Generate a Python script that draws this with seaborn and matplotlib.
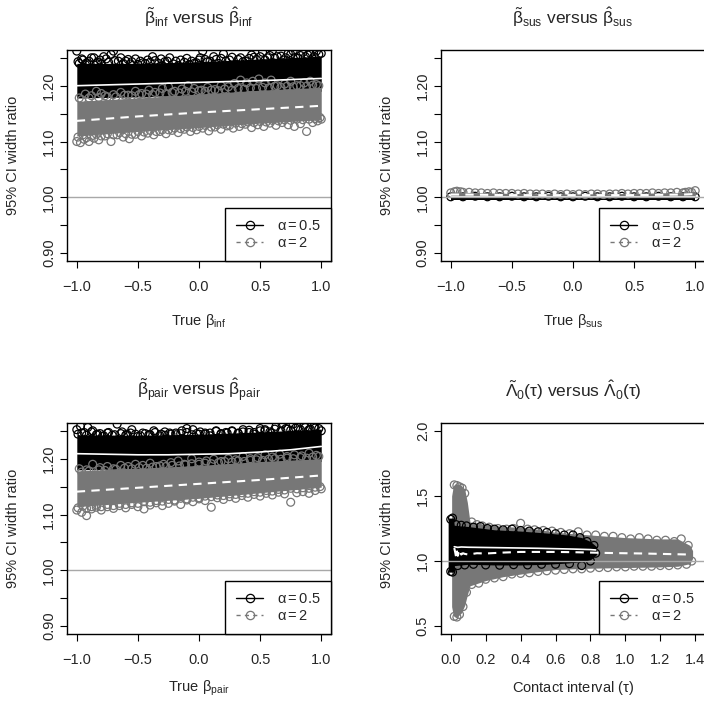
import matplotlib
matplotlib.use("Agg")
import matplotlib.pyplot as plt
from matplotlib.lines import Line2D
import seaborn as sns

# ---- data ----
# panel 1: beta_inf
inf_band_x = [-1.0, -0.5, 0.0, 0.5, 1.0]
inf_a05_lo = [1.178, 1.180, 1.183, 1.187, 1.190]
inf_a05_hi = [1.240, 1.240, 1.243, 1.248, 1.253]
inf_a2_lo = [1.110, 1.118, 1.125, 1.133, 1.139]
inf_a2_hi = [1.172, 1.178, 1.185, 1.192, 1.197]
inf_a05_fit = [1.200, 1.203, 1.206, 1.209, 1.213]
inf_a2_fit = [1.137, 1.145, 1.152, 1.158, 1.164]
inf_a05_px = [-1.0, -0.98, -0.95, -0.93, -0.9, -0.86, -0.83, -0.8, -0.76, -0.72, -0.7, -0.66, -0.62,
              -0.58, -0.55, -0.5, -0.46, -0.42, -0.38, -0.33, -0.3, -0.26, -0.21, -0.17, -0.12, -0.08,
              -0.04, 0.0, 0.03, 0.07, 0.12, 0.16, 0.2, 0.25, 0.3, 0.34, 0.38, 0.43, 0.47, 0.52, 0.56,
              0.6, 0.64, 0.69, 0.73, 0.77, 0.81, 0.85, 0.89, 0.93, 0.96, 1.0,
              -0.99, -0.96, -0.92, -0.88, -0.84, -0.81, -0.78, -0.74, -0.69, -0.64, -0.6, -0.56,
              -0.52, -0.48, -0.44, -0.4, -0.36, -0.31, -0.28, -0.24, -0.19, -0.15, -0.1, -0.06,
              -0.02, 0.01, 0.05, 0.09, 0.14, 0.18, 0.22, 0.27, 0.32, 0.36, 0.41, 0.45, 0.5, 0.54,
              0.58, 0.62, 0.67, 0.71, 0.75, 0.79, 0.83, 0.87, 0.91, 0.94, 0.98]
inf_a05_py = [1.262, 1.240, 1.246, 1.238, 1.244, 1.250, 1.242, 1.239, 1.248, 1.256, 1.262, 1.244, 1.240,
              1.247, 1.243, 1.238, 1.241, 1.246, 1.252, 1.240, 1.236, 1.244, 1.239, 1.236, 1.242, 1.238,
              1.240, 1.246, 1.262, 1.243, 1.252, 1.240, 1.257, 1.246, 1.238, 1.250, 1.244, 1.255, 1.247,
              1.260, 1.250, 1.263, 1.252, 1.246, 1.258, 1.262, 1.249, 1.260, 1.255, 1.248, 1.262, 1.258,
              1.243, 1.248, 1.241, 1.250, 1.240, 1.246, 1.252, 1.242, 1.245, 1.250, 1.244, 1.239,
              1.248, 1.244, 1.240, 1.242, 1.245, 1.248, 1.243, 1.250, 1.244, 1.246, 1.249, 1.244,
              1.241, 1.250, 1.247, 1.244, 1.247, 1.249, 1.244, 1.251, 1.247, 1.243, 1.249, 1.251,
              1.252, 1.246, 1.254, 1.249, 1.253, 1.250, 1.256, 1.251, 1.254, 1.252, 1.258, 1.252, 1.256]
inf_a2_px = [-0.98, -0.93, -0.88, -0.84, -0.8, -0.75, -0.7, -0.64, -0.58, -0.52, -0.47, -0.41, -0.36,
             -0.3, -0.25, -0.2, -0.14, -0.09, -0.04, 0.02, 0.07, 0.13, 0.18, 0.24, 0.29, 0.34, 0.39,
             0.44, 0.49, 0.54, 0.59, 0.64, 0.7, 0.75, 0.8, 0.86, 0.91, 0.96,
             -0.96, -0.9, -0.82, -0.77, -0.68, -0.61, -0.55, -0.49, -0.43, -0.38, -0.32, -0.27, -0.22,
             -0.16, -0.11, -0.06, 0.0, 0.05, 0.1, 0.16, 0.21, 0.27, 0.32, 0.37, 0.42, 0.47, 0.52, 0.57,
             0.62, 0.67, 0.72, 0.77, 0.83, 0.88, 0.93, 0.98,
             -1.0, -0.97, -0.94, -0.9, -0.86, -0.82, -0.77, -0.72, -0.67, -0.62, -0.57, -0.52, -0.47,
             -0.42, -0.37, -0.32, -0.27, -0.22, -0.17, -0.12, -0.07, -0.02, 0.03, 0.08, 0.13, 0.18,
             0.23, 0.28, 0.33, 0.38, 0.43, 0.48, 0.53, 0.58, 0.63, 0.68, 0.73, 0.78, 0.83, 0.88, 0.93,
             0.97, 1.0,
             -0.99, -0.95, -0.92, -0.88, -0.84, -0.8, -0.75, -0.7, -0.65, -0.6, -0.55, -0.5, -0.45,
             -0.4, -0.35, -0.3, -0.25, -0.2, -0.15, -0.1, -0.05, 0.0, 0.05, 0.1, 0.15, 0.2, 0.25, 0.3,
             0.35, 0.4, 0.45, 0.5, 0.55, 0.6, 0.65, 0.7, 0.75, 0.8, 0.85, 0.9, 0.95, 0.99]
inf_a2_py = [1.178, 1.185, 1.182, 1.190, 1.186, 1.180, 1.184, 1.188, 1.183, 1.190, 1.186, 1.192, 1.188,
             1.195, 1.198, 1.190, 1.194, 1.200, 1.195, 1.192, 1.197, 1.193, 1.200, 1.198, 1.204, 1.210,
             1.205, 1.208, 1.212, 1.205, 1.210, 1.200, 1.203, 1.208, 1.200, 1.205, 1.208, 1.202,
             1.175, 1.178, 1.179, 1.182, 1.180, 1.183, 1.182, 1.184, 1.185, 1.184, 1.187, 1.186, 1.188,
             1.187, 1.190, 1.189, 1.191, 1.190, 1.192, 1.191, 1.194, 1.192, 1.195, 1.194, 1.196, 1.195,
             1.197, 1.196, 1.199, 1.197, 1.199, 1.198, 1.200, 1.199, 1.201, 1.200,
             1.100, 1.098, 1.104, 1.100, 1.106, 1.103, 1.110, 1.100, 1.112, 1.108, 1.105, 1.113, 1.110,
             1.115, 1.112, 1.118, 1.114, 1.120, 1.116, 1.122, 1.118, 1.121, 1.124, 1.119, 1.126, 1.122,
             1.128, 1.124, 1.127, 1.131, 1.125, 1.130, 1.127, 1.133, 1.129, 1.134, 1.130, 1.127, 1.132,
             1.118, 1.134, 1.137, 1.140,
             1.108, 1.112, 1.107, 1.110, 1.113, 1.110, 1.114, 1.112, 1.116, 1.114, 1.113, 1.118, 1.117,
             1.120, 1.118, 1.121, 1.121, 1.124, 1.123, 1.126, 1.125, 1.127, 1.129, 1.126, 1.130, 1.131,
             1.129, 1.133, 1.132, 1.135, 1.134, 1.136, 1.135, 1.138, 1.137, 1.139, 1.138, 1.140, 1.139,
             1.140, 1.141, 1.143]

# panel 2: beta_sus
sus_band_x = [-1.0, -0.9, -0.5, 0.0, 0.5, 0.9, 1.0]
sus_a05_lo = [0.996, 0.996, 0.996, 0.996, 0.996, 0.996, 0.996]
sus_a05_hi = [1.003, 1.003, 1.003, 1.003, 1.003, 1.003, 1.003]
sus_a2_lo = [1.000, 1.000, 1.000, 1.000, 1.000, 1.000, 1.000]
sus_a2_hi = [1.010, 1.009, 1.007, 1.006, 1.007, 1.009, 1.011]
sus_a05_fit = [1.000, 1.000, 1.000, 1.000, 1.000, 1.000, 1.000]
sus_a2_fit = [1.005, 1.005, 1.004, 1.004, 1.004, 1.005, 1.006]
sus_a05_px = [-1.0, -0.9, -0.8, -0.7, -0.6, -0.5, -0.4, -0.3, -0.2, -0.1, 0.0, 0.1, 0.2, 0.3, 0.4,
              0.5, 0.6, 0.7, 0.8, 0.9, 1.0]
sus_a05_py = [1.001, 1.001, 1.002, 1.001, 1.001, 1.002, 1.001, 1.001, 1.002, 1.001, 1.001, 1.002,
              1.001, 1.001, 1.002, 1.001, 1.001, 1.002, 1.001, 1.001, 1.001]
sus_a2_px = [-1.0, -0.97, -0.95, -0.92, -0.9, -0.85, -0.8, -0.75, -0.7, -0.65, -0.6, -0.55, -0.5,
             -0.45, -0.4, -0.35, -0.3, -0.25, -0.2, -0.15, -0.1, -0.05, 0.0, 0.05, 0.1, 0.15, 0.2,
             0.25, 0.3, 0.35, 0.4, 0.45, 0.5, 0.55, 0.6, 0.65, 0.7, 0.75, 0.8, 0.85, 0.9, 0.92,
             0.95, 0.97, 1.0]
sus_a2_py = [1.008, 1.010, 1.011, 1.010, 1.009, 1.009, 1.008, 1.008, 1.007, 1.008, 1.007, 1.007,
             1.007, 1.006, 1.007, 1.006, 1.006, 1.006, 1.005, 1.006, 1.005, 1.006, 1.005, 1.006,
             1.005, 1.006, 1.006, 1.005, 1.006, 1.006, 1.007, 1.006, 1.007, 1.007, 1.007, 1.008,
             1.007, 1.008, 1.008, 1.009, 1.008, 1.009, 1.010, 1.009, 1.012]

# panel 3: beta_pair
pair_band_x = [-1.0, -0.5, 0.0, 0.5, 1.0]
pair_a05_lo = [1.180, 1.182, 1.185, 1.190, 1.195]
pair_a05_hi = [1.243, 1.242, 1.244, 1.248, 1.253]
pair_a2_lo = [1.114, 1.122, 1.129, 1.139, 1.149]
pair_a2_hi = [1.178, 1.183, 1.188, 1.195, 1.200]
pair_a05_fit_x = [-1.0, -0.75, -0.5, -0.25, 0.0, 0.25, 0.5, 0.75, 1.0]
pair_a05_fit = [1.209, 1.208, 1.207, 1.207, 1.208, 1.209, 1.212, 1.216, 1.222]
pair_a2_fit = [1.141, 1.148, 1.155, 1.162, 1.170]
pair_a05_px = [-1.0, -0.97, -0.94, -0.91, -0.87, -0.83, -0.79, -0.75, -0.71, -0.67, -0.63, -0.59,
               -0.55, -0.5, -0.46, -0.41, -0.37, -0.32, -0.28, -0.23, -0.19, -0.14, -0.1, -0.05, 0.0,
               0.05, 0.09, 0.14, 0.18, 0.23, 0.27, 0.32, 0.36, 0.41, 0.45, 0.5, 0.54, 0.59, 0.63, 0.68,
               0.72, 0.77, 0.81, 0.86, 0.9, 0.95, 1.0,
               -0.99, -0.96, -0.92, -0.88, -0.84, -0.81, -0.78, -0.74, -0.69, -0.64, -0.6, -0.56,
               -0.52, -0.48, -0.44, -0.4, -0.36, -0.31, -0.28, -0.24, -0.19, -0.15, -0.1, -0.06,
               -0.02, 0.01, 0.05, 0.09, 0.14, 0.18, 0.22, 0.27, 0.32, 0.36, 0.41, 0.45, 0.5, 0.54,
               0.58, 0.62, 0.67, 0.71, 0.75, 0.79, 0.83, 0.87, 0.91, 0.94, 0.98]
pair_a05_py = [1.252, 1.258, 1.247, 1.256, 1.250, 1.244, 1.240, 1.246, 1.242, 1.262, 1.248, 1.244,
               1.252, 1.240, 1.246, 1.243, 1.250, 1.241, 1.248, 1.244, 1.246, 1.250, 1.254, 1.252,
               1.244, 1.246, 1.241, 1.250, 1.244, 1.246, 1.249, 1.245, 1.252, 1.247, 1.244, 1.254,
               1.250, 1.246, 1.258, 1.262, 1.253, 1.262, 1.256, 1.260, 1.252, 1.255, 1.250,
               1.244, 1.246, 1.242, 1.248, 1.243, 1.245, 1.241, 1.247, 1.243, 1.245, 1.242, 1.246,
               1.244, 1.241, 1.245, 1.243, 1.247, 1.244, 1.242, 1.246, 1.243, 1.245, 1.247, 1.243,
               1.245, 1.248, 1.244, 1.246, 1.249, 1.245, 1.247, 1.250, 1.246, 1.248, 1.251, 1.247,
               1.250, 1.252, 1.248, 1.253, 1.250, 1.254, 1.251, 1.255, 1.252, 1.256, 1.253, 1.257, 1.254]
pair_a2_px = [-0.98, -0.92, -0.87, -0.81, -0.75, -0.7, -0.64, -0.58, -0.52, -0.46, -0.4, -0.35, -0.29,
              -0.23, -0.17, -0.12, -0.06, 0.0, 0.06, 0.12, 0.18, 0.24, 0.3, 0.36, 0.42, 0.48, 0.54,
              0.6, 0.66, 0.72, 0.78, 0.84, 0.9, 0.96,
              -0.96, -0.9, -0.82, -0.77, -0.68, -0.61, -0.55, -0.49, -0.43, -0.38, -0.32, -0.27,
              -0.22, -0.16, -0.11, -0.06, 0.0, 0.05, 0.1, 0.16, 0.21, 0.27, 0.32, 0.37, 0.42, 0.47,
              0.52, 0.57, 0.62, 0.67, 0.72, 0.77, 0.83, 0.88, 0.93, 0.98,
              -1.0, -0.96, -0.92, -0.88, -0.84, -0.8, -0.75, -0.7, -0.65, -0.6, -0.55, -0.5, -0.45,
              -0.4, -0.35, -0.3, -0.25, -0.2, -0.15, -0.1, -0.05, 0.0, 0.05, 0.1, 0.15, 0.2, 0.25,
              0.3, 0.35, 0.4, 0.45, 0.5, 0.55, 0.6, 0.65, 0.7, 0.75, 0.8, 0.85, 0.9, 0.95, 1.0,
              -0.99, -0.95, -0.92, -0.88, -0.84, -0.8, -0.75, -0.7, -0.65, -0.6, -0.55, -0.5, -0.45,
              -0.4, -0.35, -0.3, -0.25, -0.2, -0.15, -0.1, -0.05, 0.0, 0.05, 0.1, 0.15, 0.2, 0.25,
              0.3, 0.35, 0.4, 0.45, 0.5, 0.55, 0.6, 0.65, 0.7, 0.75, 0.8, 0.85, 0.9, 0.95, 0.99]
pair_a2_py = [1.182, 1.180, 1.190, 1.184, 1.186, 1.182, 1.188, 1.186, 1.190, 1.188, 1.192, 1.186,
              1.190, 1.193, 1.196, 1.190, 1.200, 1.194, 1.196, 1.199, 1.195, 1.200, 1.198, 1.204,
              1.200, 1.202, 1.207, 1.203, 1.208, 1.204, 1.207, 1.205, 1.210, 1.206,
              1.176, 1.178, 1.180, 1.179, 1.181, 1.183, 1.182, 1.184, 1.183, 1.185, 1.187, 1.186,
              1.188, 1.187, 1.189, 1.191, 1.190, 1.192, 1.191, 1.193, 1.195, 1.194, 1.196, 1.195,
              1.197, 1.198, 1.197, 1.199, 1.200, 1.199, 1.201, 1.200, 1.202, 1.201, 1.203, 1.204,
              1.108, 1.104, 1.098, 1.110, 1.113, 1.108, 1.114, 1.111, 1.116, 1.112, 1.118, 1.114,
              1.110, 1.117, 1.121, 1.116, 1.120, 1.124, 1.118, 1.126, 1.123, 1.128, 1.125, 1.113,
              1.130, 1.127, 1.132, 1.129, 1.134, 1.131, 1.136, 1.133, 1.138, 1.135, 1.140, 1.137,
              1.122, 1.139, 1.141, 1.138, 1.143, 1.146,
              1.112, 1.115, 1.111, 1.114, 1.117, 1.114, 1.118, 1.116, 1.120, 1.118, 1.121, 1.120,
              1.123, 1.122, 1.125, 1.124, 1.127, 1.126, 1.129, 1.128, 1.131, 1.130, 1.133, 1.132,
              1.135, 1.134, 1.137, 1.136, 1.139, 1.138, 1.141, 1.140, 1.143, 1.142, 1.145, 1.144,
              1.147, 1.146, 1.148, 1.147, 1.149, 1.150]

# panel 4: baseline hazard over contact interval
tau_a05_x = [-0.015, 0.015, 0.02, 0.1, 0.25, 0.4, 0.55, 0.67, 0.75, 0.8, 0.835]
tau_a05_lo = [0.915, 0.915, 0.965, 0.975, 0.970, 0.970, 0.975, 0.985, 0.995, 1.010, 1.050]
tau_a05_hi = [1.330, 1.330, 1.275, 1.265, 1.240, 1.230, 1.215, 1.200, 1.180, 1.150, 1.110]
tau_a2_x = [0.005, 0.015, 0.03, 0.06, 0.08, 0.095, 0.11, 0.2, 0.3, 0.45, 0.6, 0.8, 1.0, 1.2, 1.3,
            1.37, 1.385]
tau_a2_lo = [0.65, 0.58, 0.565, 0.60, 0.66, 0.74, 0.81, 0.85, 0.88, 0.91, 0.935, 0.945, 0.95, 0.955,
             0.96, 0.98, 1.02]
tau_a2_hi = [1.50, 1.58, 1.595, 1.58, 1.55, 1.45, 1.30, 1.28, 1.265, 1.255, 1.22, 1.20, 1.18, 1.17,
             1.17, 1.12, 1.08]
tau_a05_fit_x = [0.02, 0.04, 0.06, 0.1, 0.2, 0.3, 0.4, 0.5, 0.6, 0.7, 0.8, 0.83]
tau_a05_fit = [1.110, 1.105, 1.108, 1.106, 1.104, 1.102, 1.100, 1.098, 1.095, 1.092, 1.088, 1.085]
tau_a2_fit_x = [0.02, 0.025, 0.03, 0.035, 0.04, 0.045, 0.05, 0.055, 0.06, 0.07, 0.08, 0.1, 0.15, 0.2,
                0.3, 0.4, 0.5, 0.6, 0.7, 0.8, 0.9, 1.0, 1.1, 1.2, 1.3, 1.37]
tau_a2_fit = [1.100, 1.070, 1.035, 1.080, 1.040, 1.060, 1.045, 1.070, 1.050, 1.060, 1.055, 1.050,
              1.060, 1.058, 1.065, 1.070, 1.070, 1.070, 1.068, 1.065, 1.062, 1.060, 1.058, 1.055,
              1.052, 1.050]
tau_a05_px = [0.0, 0.01, 0.03, 0.06, 0.09, 0.13, 0.17, 0.21, 0.25, 0.3, 0.35, 0.4, 0.45, 0.5, 0.55,
              0.6, 0.65, 0.7, 0.74, 0.78, 0.82,
              0.0, 0.01, 0.04, 0.08, 0.13, 0.2, 0.28, 0.36, 0.44, 0.52, 0.6, 0.68, 0.75, 0.8, 0.83]
tau_a05_py = [1.32, 1.33, 1.28, 1.275, 1.27, 1.26, 1.265, 1.25, 1.245, 1.24, 1.245, 1.235, 1.23, 1.225,
              1.22, 1.21, 1.20, 1.20, 1.18, 1.15, 1.12,
              0.92, 0.915, 0.965, 0.97, 0.975, 0.97, 0.968, 0.972, 0.97, 0.975, 0.975, 0.98, 0.965,
              1.00, 1.06]
tau_a2_px = [0.02, 0.035, 0.05, 0.065, 0.08, 0.12, 0.15, 0.18, 0.22, 0.27, 0.32, 0.36, 0.4, 0.44, 0.48,
             0.53, 0.58, 0.63, 0.68, 0.73, 0.78, 0.83, 0.88, 0.93, 0.98, 1.03, 1.08, 1.13, 1.18, 1.23,
             1.28, 1.32, 1.36,
             0.02, 0.035, 0.05, 0.07, 0.09, 0.12, 0.16, 0.2, 0.25, 0.3, 0.35, 0.4, 0.45, 0.5, 0.55,
             0.6, 0.65, 0.7, 0.75, 0.8, 0.85, 0.9, 0.95, 1.0, 1.05, 1.1, 1.15, 1.2, 1.25, 1.3, 1.35,
             1.38]
tau_a2_py = [1.585, 1.58, 1.57, 1.56, 1.52, 1.30, 1.28, 1.27, 1.26, 1.25, 1.245, 1.25, 1.29, 1.245,
             1.24, 1.235, 1.23, 1.22, 1.21, 1.225, 1.20, 1.20, 1.19, 1.19, 1.18, 1.17, 1.18, 1.17,
             1.16, 1.16, 1.15, 1.17, 1.12,
             0.575, 0.57, 0.59, 0.65, 0.76, 0.82, 0.83, 0.86, 0.87, 0.88, 0.90, 0.905, 0.91, 0.92,
             0.925, 0.93, 0.935, 0.94, 0.94, 0.945, 0.95, 0.95, 0.955, 0.955, 0.96, 0.96, 0.96,
             0.965, 0.965, 0.97, 0.975, 1.00]

legend_labels = [r"$\alpha = 0.5$", r"$\alpha = 2$"]

BLACK = "black"
GREY = "#777777"

sns.set_theme(style="white")
plt.rcParams["font.family"] = ["Liberation Sans", "DejaVu Sans"]
plt.rcParams["mathtext.fontset"] = "custom"
plt.rcParams["mathtext.rm"] = "Liberation Sans"
plt.rcParams["mathtext.it"] = "Liberation Sans"
plt.rcParams["mathtext.default"] = "regular"


def draw_series(ax, bx, lo, hi, px, py, col):
    ax.fill_between(bx, lo, hi, color=col, lw=0)
    sns.scatterplot(x=px, y=py, ax=ax, marker="o", s=32, facecolor="none",
                    edgecolor=col, linewidth=0.9, legend=False)


def finish(ax, title, xlabel, xticks, xlabels, yticks, ylabels, xlim, ylim, xlabelpad):
    ax.axhline(1.0, color="#a8a8a8", lw=1.0)
    ax.set_xlim(xlim)
    ax.set_ylim(ylim)
    ax.set_xticks(xticks)
    ax.set_xticklabels(xlabels)
    ax.set_yticks(yticks)
    ax.set_yticklabels(ylabels, rotation=90, va="center")
    ax.tick_params(axis="both", which="both", direction="out", length=5, width=0.8,
                   labelsize=10.5, color="black", left=True, bottom=True)
    ax.tick_params(axis="x", pad=9)
    ax.tick_params(axis="y", pad=3)
    for sp in ax.spines.values():
        sp.set_color("black")
        sp.set_linewidth(1.0)
    ax.set_title(title, fontsize=12.5, pad=19)
    ax.set_xlabel(xlabel, fontsize=10.5, labelpad=xlabelpad)
    ax.set_ylabel("95% CI width ratio", fontsize=10.5, labelpad=16)
    handles = [Line2D([0], [0], color=BLACK, lw=1, marker="o", mfc="none", ms=6, mew=0.9),
               Line2D([0], [0], color=GREY, lw=1, ls=(0, (3, 3)), marker="o", mfc="none",
                      ms=6, mew=0.9)]
    leg = ax.legend(handles, legend_labels, loc="lower right", borderaxespad=0,
                    fancybox=False, framealpha=1, edgecolor="black", fontsize=10.5,
                    handlelength=1.9, handletextpad=0.9, borderpad=0.75, labelspacing=0.2)
    leg.get_frame().set_linewidth(1.0)


fig = plt.figure(figsize=(7.04, 7.01), dpi=100)
w, h = 0.375, 0.301
ax1 = fig.add_axes([0.0952, 0.6277, w, h])
ax2 = fig.add_axes([0.6264, 0.6277, w, h])
ax3 = fig.add_axes([0.0952, 0.0956, w, h])
ax4 = fig.add_axes([0.6264, 0.0956, w, h])

bx_ticks = [-1.0, -0.5, 0.0, 0.5, 1.0]
bx_labels = ["\u22121.0", "\u22120.5", "0.0", "0.5", "1.0"]
by_ticks = [0.90, 0.95, 1.00, 1.05, 1.10, 1.15, 1.20, 1.25]
by_labels = ["0.90", "", "1.00", "", "1.10", "", "1.20", ""]
blim = (-1.08, 1.08)
bylim = (0.886, 1.264)

# panel 1
draw_series(ax1, inf_band_x, inf_a05_lo, inf_a05_hi, inf_a05_px, inf_a05_py, BLACK)
draw_series(ax1, inf_band_x, inf_a2_lo, inf_a2_hi, inf_a2_px, inf_a2_py, GREY)
sns.lineplot(x=inf_band_x, y=inf_a05_fit, ax=ax1, color="white", lw=1.2)
sns.lineplot(x=inf_band_x, y=inf_a2_fit, ax=ax1, color="white", lw=1.5, linestyle=(0, (4, 3)))
finish(ax1, r"$\tilde{\beta}_{inf}$ versus $\hat{\beta}_{inf}$", r"True $\beta_{inf}$",
       bx_ticks, bx_labels, by_ticks, by_labels, blim, bylim, 13)

# panel 2
draw_series(ax2, sus_band_x, sus_a05_lo, sus_a05_hi, sus_a05_px, sus_a05_py, BLACK)
draw_series(ax2, sus_band_x, sus_a2_lo, sus_a2_hi, sus_a2_px, sus_a2_py, GREY)
sns.lineplot(x=sus_band_x, y=sus_a05_fit, ax=ax2, color="white", lw=1.2)
sns.lineplot(x=sus_band_x, y=sus_a2_fit, ax=ax2, color="white", lw=1.5, linestyle=(0, (4, 3)))
finish(ax2, r"$\tilde{\beta}_{sus}$ versus $\hat{\beta}_{sus}$", r"True $\beta_{sus}$",
       bx_ticks, bx_labels, by_ticks, by_labels, blim, bylim, 13)

# panel 3
draw_series(ax3, pair_band_x, pair_a05_lo, pair_a05_hi, pair_a05_px, pair_a05_py, BLACK)
draw_series(ax3, pair_band_x, pair_a2_lo, pair_a2_hi, pair_a2_px, pair_a2_py, GREY)
sns.lineplot(x=pair_a05_fit_x, y=pair_a05_fit, ax=ax3, color="white", lw=1.2)
sns.lineplot(x=pair_band_x, y=pair_a2_fit, ax=ax3, color="white", lw=1.5, linestyle=(0, (4, 3)))
finish(ax3, r"$\tilde{\beta}_{pair}$ versus $\hat{\beta}_{pair}$", r"True $\beta_{pair}$",
       bx_ticks, bx_labels, by_ticks, by_labels, blim, bylim, 8)

# panel 4 (alpha = 2 drawn underneath)
draw_series(ax4, tau_a2_x, tau_a2_lo, tau_a2_hi, tau_a2_px, tau_a2_py, GREY)
draw_series(ax4, tau_a05_x, tau_a05_lo, tau_a05_hi, tau_a05_px, tau_a05_py, BLACK)
sns.lineplot(x=tau_a05_fit_x, y=tau_a05_fit, ax=ax4, color="white", lw=1.2)
sns.lineplot(x=tau_a2_fit_x, y=tau_a2_fit, ax=ax4, color="white", lw=1.5, linestyle=(0, (4, 3)))
tx_ticks = [0.0, 0.2, 0.4, 0.6, 0.8, 1.0, 1.2, 1.4]
finish(ax4, r"$\tilde{\Lambda}_0(\tau)$ versus $\hat{\Lambda}_0(\tau)$", r"Contact interval $(\tau)$",
       tx_ticks, ["%.1f" % t for t in tx_ticks], [0.5, 1.0, 1.5, 2.0],
       ["0.5", "1.0", "1.5", "2.0"], (-0.056, 1.456), (0.44, 2.06), 8)

fig.savefig("out.png", dpi=100)
